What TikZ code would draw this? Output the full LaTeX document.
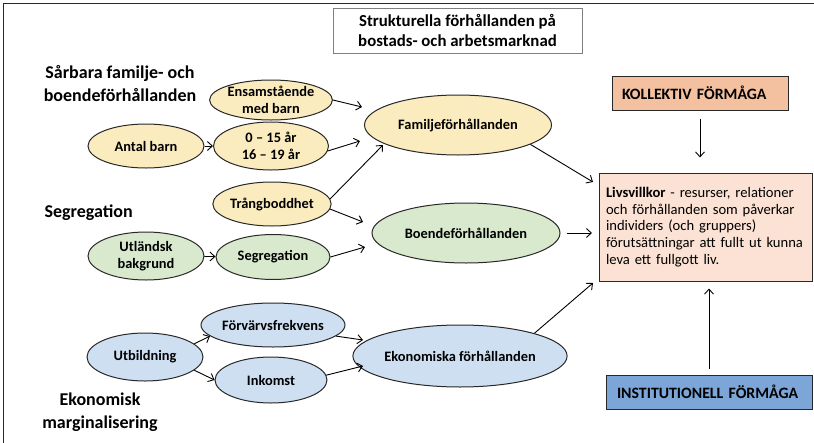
\documentclass[tikz,border=0pt]{standalone}
\usepackage{fontspec}
\setmainfont{Carlito}
\usetikzlibrary{shapes.geometric,arrows.meta}

\definecolor{famfill}{RGB}{251,236,192}
\definecolor{boefill}{RGB}{216,233,206}
\definecolor{ekofill}{RGB}{206,223,241}
\definecolor{livfill}{RGB}{251,226,212}
\definecolor{kolfill}{RGB}{243,192,160}
\definecolor{insfill}{RGB}{124,165,216}
\definecolor{edge}{RGB}{40,40,40}

\begin{document}
\begin{tikzpicture}[x=1pt,y=-1pt,
    oval/.style={ellipse,draw=edge,line width=1pt,inner sep=0pt,align=center,
      font=\fontsize{14.4}{17}\selectfont\bfseries},
    heading/.style={align=center,font=\fontsize{18}{23}\selectfont\bfseries},
    box/.style={rectangle,draw=edge,line width=1pt,inner sep=0pt},
    arr/.style={-{Straight Barb[length=5pt,width=9pt]},line width=0.9pt}]
        \useasboundingbox (0,0) rectangle (814,442);

        % Frame
        \draw[line width=1.6pt,edge] (3.5,460) -- (3.5,3.5) -- (830,3.5);

        % Headings
        \node[box,draw=gray,fill=white,minimum width=249,minimum height=45,align=center,
          font=\fontsize{16.8}{20.5}\selectfont\bfseries] (struk) at (457.5,30.5)
          {Strukturella förhållanden på\\bostads- och arbetsmarknad};
        \node[heading] (hfam) at (120,84) {Sårbara familje- och\\boendeförhållanden};
        \node[heading,anchor=west] (hseg) at (41,213) {Segregation};
        \node[heading] (heko) at (100,412) {Ekonomisk\\marginalisering};

        % Family
        \node[oval,fill=famfill,minimum width=115,minimum height=40] (ens) at (271,100) {Ensamstående\\med barn};
        \node[oval,fill=famfill,minimum width=116,minimum height=44] (antal) at (146,146) {Antal barn};
        \node[oval,fill=famfill,minimum width=115,minimum height=48] (n015) at (271,146) {0 -- 15 år\\16 -- 19 år};
        \node[oval,fill=famfill,minimum width=113,minimum height=44] (trang) at (272,204) {Trångboddhet};
        \node[oval,fill=famfill,minimum width=187,minimum height=60] (fam) at (458,125) {Familjeförhållanden};

        % Segregation
        \node[oval,fill=boefill,minimum width=116,minimum height=48] (utl) at (146,256) {Utländsk\\bakgrund};
        \node[oval,fill=boefill,minimum width=114,minimum height=45] (segr) at (273,257) {Segregation};
        \node[oval,fill=boefill,minimum width=188,minimum height=60] (boende) at (466,233) {Boendeförhållanden};

        % Economy
        \node[oval,fill=ekofill,minimum width=120,minimum height=44] (forv) at (273,325) {Förvärvsfrekvens};
        \node[oval,fill=ekofill,minimum width=116,minimum height=48] (utb) at (145,357) {Utbildning};
        \node[oval,fill=ekofill,minimum width=112,minimum height=46] (ink) at (271,380) {Inkomst};
        \node[oval,fill=ekofill,minimum width=189,minimum height=62] (ekon) at (460,356) {Ekonomiska förhållanden};

        % Right column
        \node[box,fill=kolfill,minimum width=176,minimum height=34,text width=156,align=left,
          font=\fontsize{15.8}{18}\selectfont\bfseries] (koll) at (700,93) {KOLLEKTIV FÖRMÅGA};
        \node[box,fill=livfill,minimum width=213,minimum height=108,text width=199,align=left,
          font=\fontsize{14.6}{16.8}\selectfont] (liv) at (705.5,227)
          {\textbf{Livsvillkor} - resurser, relationer\\och förhållanden som påverkar\\individers (och gruppers)\\förutsättningar att fullt ut kunna\\leva ett fullgott liv.};
        \node[box,fill=insfill,minimum width=206,minimum height=34,text width=184,align=left,
          font=\fontsize{15.8}{18}\selectfont\bfseries] (inst) at (709,392) {INSTITUTIONELL FÖRMÅGA};

        % Arrow tips
        \coordinate (t1) at (362,107);
        \coordinate (t2) at (360,141);
        \coordinate (t3) at (383,145);
        \coordinate (t4) at (363,222);
        \coordinate (t5) at (365,247);
        \coordinate (t6) at (363,340);
        \coordinate (t7) at (363,366);
        \coordinate (t8) at (593,182);
        \coordinate (t9) at (592,233);
        \coordinate (t10) at (593,283);

        % Arrows
        \draw[arr] (antal) -- (n015);
        \draw[arr] (utl) -- (segr);
        \draw[arr] (utb.15) -- (forv.190);
        \draw[arr] (utb.-15) -- (ink.west);
        \draw[arr] (ens.east) -- (t1);
        \draw[arr] (n015.-5) -- (t2);
        \draw[arr] (trang.5) -- (t3);
        \draw[arr] (trang.-5) -- (t4);
        \draw[arr] (segr.east) -- (t5);
        \draw[arr] (forv.-10) -- (t6);
        \draw[arr] (ink.5) -- (t7);
        \draw[arr] (fam.-15) -- (t8);
        \draw[arr,shorten <=6pt] (boende.east) -- (t9);
        \draw[arr] (ekon.17) -- (t10);
        \draw[arr,shorten <=8pt,shorten >=15pt] (koll.south) -- (koll.south |- liv.north);
        \draw[arr,shorten <=6pt,shorten >=7pt] (inst.north) -- (inst.north |- liv.south);
\end{tikzpicture}
\end{document}
